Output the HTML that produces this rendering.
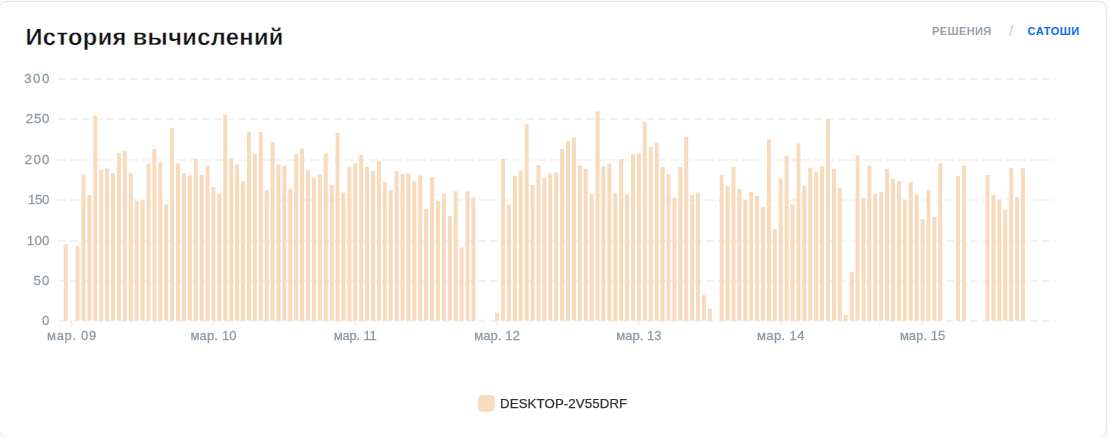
<!DOCTYPE html>
<html><head><meta charset="utf-8"><style>
html,body{margin:0;padding:0;width:1108px;height:437px;overflow:hidden;background:#fafafa;}
.card{position:absolute;left:-1px;top:1px;width:1108px;height:437px;box-sizing:border-box;border:1px solid #E4E2F5;border-radius:8px;background:#fff;}
svg{position:absolute;left:0;top:0;}
text{font-family:"Liberation Sans",sans-serif;}
</style></head><body>
<div class="card"></div>
<svg width="1108" height="437" viewBox="0 0 1108 437">
<g stroke="#E8E8E8" stroke-width="1" stroke-dasharray="8 4"><line x1="58" y1="79.00" x2="1055" y2="79.00"/><line x1="58" y1="119.00" x2="1055" y2="119.00"/><line x1="58" y1="160.00" x2="1055" y2="160.00"/><line x1="58" y1="200.00" x2="1055" y2="200.00"/><line x1="58" y1="241.00" x2="1055" y2="241.00"/><line x1="58" y1="281.00" x2="1055" y2="281.00"/><line x1="58" y1="321.00" x2="1055" y2="321.00"/></g>
<g stroke="#E8E8E8" stroke-width="1"><line x1="71.65" y1="321" x2="71.65" y2="326"/><line x1="213.47" y1="321" x2="213.47" y2="326"/><line x1="355.28" y1="321" x2="355.28" y2="326"/><line x1="497.10" y1="321" x2="497.10" y2="326"/><line x1="638.91" y1="321" x2="638.91" y2="326"/><line x1="780.73" y1="321" x2="780.73" y2="326"/><line x1="922.55" y1="321" x2="922.55" y2="326"/></g>
<g fill="#F8DABD"><rect x="63.74" y="244.20" width="4.00" height="76.60"/><rect x="75.56" y="246.20" width="4.00" height="74.60"/><rect x="81.47" y="174.30" width="4.00" height="146.50"/><rect x="87.38" y="195.10" width="4.00" height="125.70"/><rect x="93.29" y="115.60" width="4.00" height="205.20"/><rect x="99.20" y="169.60" width="4.00" height="151.20"/><rect x="105.10" y="168.50" width="4.00" height="152.30"/><rect x="111.01" y="173.10" width="4.00" height="147.70"/><rect x="116.92" y="153.10" width="4.00" height="167.70"/><rect x="122.83" y="151.10" width="4.00" height="169.70"/><rect x="128.74" y="173.10" width="4.00" height="147.70"/><rect x="134.65" y="200.80" width="4.00" height="120.00"/><rect x="140.56" y="199.90" width="4.00" height="120.90"/><rect x="146.47" y="163.40" width="4.00" height="157.40"/><rect x="152.38" y="149.10" width="4.00" height="171.70"/><rect x="158.28" y="162.30" width="4.00" height="158.50"/><rect x="164.19" y="204.20" width="4.00" height="116.60"/><rect x="170.10" y="127.80" width="4.00" height="193.00"/><rect x="176.01" y="163.40" width="4.00" height="157.40"/><rect x="181.92" y="173.10" width="4.00" height="147.70"/><rect x="187.83" y="175.20" width="4.00" height="145.60"/><rect x="193.74" y="158.80" width="4.00" height="162.00"/><rect x="199.65" y="174.70" width="4.00" height="146.10"/><rect x="205.56" y="165.90" width="4.00" height="154.90"/><rect x="211.47" y="187.00" width="4.00" height="133.80"/><rect x="217.38" y="193.80" width="4.00" height="127.00"/><rect x="223.28" y="114.70" width="4.00" height="206.10"/><rect x="229.19" y="158.10" width="4.00" height="162.70"/><rect x="235.10" y="164.10" width="4.00" height="156.70"/><rect x="241.01" y="181.40" width="4.00" height="139.40"/><rect x="246.92" y="132.10" width="4.00" height="188.70"/><rect x="252.83" y="154.00" width="4.00" height="166.80"/><rect x="258.74" y="132.10" width="4.00" height="188.70"/><rect x="264.65" y="190.10" width="4.00" height="130.70"/><rect x="270.56" y="142.10" width="4.00" height="178.70"/><rect x="276.47" y="164.10" width="4.00" height="156.70"/><rect x="282.37" y="165.90" width="4.00" height="154.90"/><rect x="288.28" y="189.20" width="4.00" height="131.60"/><rect x="294.19" y="154.00" width="4.00" height="166.80"/><rect x="300.10" y="148.40" width="4.00" height="172.40"/><rect x="306.01" y="170.00" width="4.00" height="150.80"/><rect x="311.92" y="178.20" width="4.00" height="142.60"/><rect x="317.83" y="174.20" width="4.00" height="146.60"/><rect x="323.74" y="153.50" width="4.00" height="167.30"/><rect x="329.65" y="184.70" width="4.00" height="136.10"/><rect x="335.55" y="132.80" width="4.00" height="188.00"/><rect x="341.46" y="192.50" width="4.00" height="128.30"/><rect x="347.37" y="166.80" width="4.00" height="154.00"/><rect x="353.28" y="163.00" width="4.00" height="157.80"/><rect x="359.19" y="154.90" width="4.00" height="165.90"/><rect x="365.10" y="166.80" width="4.00" height="154.00"/><rect x="371.01" y="171.20" width="4.00" height="149.60"/><rect x="376.92" y="160.80" width="4.00" height="160.00"/><rect x="382.83" y="181.90" width="4.00" height="138.90"/><rect x="388.74" y="190.10" width="4.00" height="130.70"/><rect x="394.64" y="171.10" width="4.00" height="149.70"/><rect x="400.55" y="173.90" width="4.00" height="146.90"/><rect x="406.46" y="173.00" width="4.00" height="147.80"/><rect x="412.37" y="181.50" width="4.00" height="139.30"/><rect x="418.28" y="175.20" width="4.00" height="145.60"/><rect x="424.19" y="208.80" width="4.00" height="112.00"/><rect x="430.10" y="177.00" width="4.00" height="143.80"/><rect x="436.01" y="200.80" width="4.00" height="120.00"/><rect x="441.92" y="193.80" width="4.00" height="127.00"/><rect x="447.83" y="216.20" width="4.00" height="104.60"/><rect x="453.74" y="191.40" width="4.00" height="129.40"/><rect x="459.64" y="247.50" width="4.00" height="73.30"/><rect x="465.55" y="191.40" width="4.00" height="129.40"/><rect x="471.46" y="197.50" width="4.00" height="123.30"/><rect x="495.10" y="312.60" width="4.00" height="8.20"/><rect x="501.01" y="159.00" width="4.00" height="161.80"/><rect x="506.92" y="204.20" width="4.00" height="116.60"/><rect x="512.83" y="175.80" width="4.00" height="145.00"/><rect x="518.73" y="170.70" width="4.00" height="150.10"/><rect x="524.64" y="124.00" width="4.00" height="196.80"/><rect x="530.55" y="185.00" width="4.00" height="135.80"/><rect x="536.46" y="165.00" width="4.00" height="155.80"/><rect x="542.37" y="178.00" width="4.00" height="142.80"/><rect x="548.28" y="173.60" width="4.00" height="147.20"/><rect x="554.19" y="172.30" width="4.00" height="148.50"/><rect x="560.10" y="148.90" width="4.00" height="171.90"/><rect x="566.01" y="140.80" width="4.00" height="180.00"/><rect x="571.91" y="137.50" width="4.00" height="183.30"/><rect x="577.82" y="165.20" width="4.00" height="155.60"/><rect x="583.73" y="169.00" width="4.00" height="151.80"/><rect x="589.64" y="194.00" width="4.00" height="126.80"/><rect x="595.55" y="111.20" width="4.00" height="209.60"/><rect x="601.46" y="166.10" width="4.00" height="154.70"/><rect x="607.37" y="163.60" width="4.00" height="157.20"/><rect x="613.28" y="193.30" width="4.00" height="127.50"/><rect x="619.19" y="159.00" width="4.00" height="161.80"/><rect x="625.10" y="194.00" width="4.00" height="126.80"/><rect x="631.00" y="154.20" width="4.00" height="166.60"/><rect x="636.91" y="153.50" width="4.00" height="167.30"/><rect x="642.82" y="122.00" width="4.00" height="198.80"/><rect x="648.73" y="146.90" width="4.00" height="173.90"/><rect x="654.64" y="142.50" width="4.00" height="178.30"/><rect x="660.55" y="167.00" width="4.00" height="153.80"/><rect x="666.46" y="174.10" width="4.00" height="146.70"/><rect x="672.37" y="197.80" width="4.00" height="123.00"/><rect x="678.28" y="166.80" width="4.00" height="154.00"/><rect x="684.19" y="137.00" width="4.00" height="183.80"/><rect x="690.09" y="195.10" width="4.00" height="125.70"/><rect x="696.00" y="192.50" width="4.00" height="128.30"/><rect x="701.91" y="294.80" width="4.00" height="26.00"/><rect x="707.82" y="308.60" width="4.00" height="12.20"/><rect x="719.64" y="175.00" width="4.00" height="145.80"/><rect x="725.55" y="185.90" width="4.00" height="134.90"/><rect x="731.46" y="166.70" width="4.00" height="154.10"/><rect x="737.37" y="188.90" width="4.00" height="131.90"/><rect x="743.28" y="200.00" width="4.00" height="120.80"/><rect x="749.18" y="191.80" width="4.00" height="129.00"/><rect x="755.09" y="195.80" width="4.00" height="125.00"/><rect x="761.00" y="207.00" width="4.00" height="113.80"/><rect x="766.91" y="139.40" width="4.00" height="181.40"/><rect x="772.82" y="229.20" width="4.00" height="91.60"/><rect x="778.73" y="178.20" width="4.00" height="142.60"/><rect x="784.64" y="155.90" width="4.00" height="164.90"/><rect x="790.55" y="204.20" width="4.00" height="116.60"/><rect x="796.46" y="143.60" width="4.00" height="177.20"/><rect x="802.37" y="185.90" width="4.00" height="134.90"/><rect x="808.27" y="167.80" width="4.00" height="153.00"/><rect x="814.18" y="171.90" width="4.00" height="148.90"/><rect x="820.09" y="166.30" width="4.00" height="154.50"/><rect x="826.00" y="118.90" width="4.00" height="201.90"/><rect x="831.91" y="169.00" width="4.00" height="151.80"/><rect x="837.82" y="187.80" width="4.00" height="133.00"/><rect x="843.73" y="314.80" width="4.00" height="6.00"/><rect x="849.64" y="271.90" width="4.00" height="48.90"/><rect x="855.55" y="155.10" width="4.00" height="165.70"/><rect x="861.46" y="197.80" width="4.00" height="123.00"/><rect x="867.36" y="165.60" width="4.00" height="155.20"/><rect x="873.27" y="193.80" width="4.00" height="127.00"/><rect x="879.18" y="192.00" width="4.00" height="128.80"/><rect x="885.09" y="169.00" width="4.00" height="151.80"/><rect x="891.00" y="178.80" width="4.00" height="142.00"/><rect x="896.91" y="181.00" width="4.00" height="139.80"/><rect x="902.82" y="199.90" width="4.00" height="120.90"/><rect x="908.73" y="181.90" width="4.00" height="138.90"/><rect x="914.64" y="194.20" width="4.00" height="126.60"/><rect x="920.55" y="219.10" width="4.00" height="101.70"/><rect x="926.45" y="189.80" width="4.00" height="131.00"/><rect x="932.36" y="216.70" width="4.00" height="104.10"/><rect x="938.27" y="163.20" width="4.00" height="157.60"/><rect x="956.00" y="176.00" width="4.00" height="144.80"/><rect x="961.91" y="165.20" width="4.00" height="155.60"/><rect x="985.54" y="175.00" width="4.00" height="145.80"/><rect x="991.45" y="194.70" width="4.00" height="126.10"/><rect x="997.36" y="199.90" width="4.00" height="120.90"/><rect x="1003.27" y="209.70" width="4.00" height="111.10"/><rect x="1009.18" y="167.90" width="4.00" height="152.90"/><rect x="1015.09" y="197.10" width="4.00" height="123.70"/><rect x="1021.00" y="168.30" width="4.00" height="152.50"/></g>
<g font-size="23.6" text-rendering="geometricPrecision" font-weight="bold" fill="#111111" stroke="#fff" stroke-width="0.35" letter-spacing="0.4"><text x="25.5" y="45.15">История</text><text x="132.7" y="45.15">вычислений</text></g>
<text x="932" y="34.8" font-size="11" font-weight="bold" fill="#9AA3AB" letter-spacing="0.4">РЕШЕНИЯ</text>
<text x="1009.3" y="35.8" font-size="14" fill="#CFC6BE">/</text>
<text x="1027.5" y="34.8" font-size="11" font-weight="bold" fill="#0B6BF0" letter-spacing="0.55">САТОШИ</text>
</svg><svg width="1108" height="437" viewBox="0 0 1108 437" style="will-change:transform"><g fill="#8F9BA3" stroke="#8F9BA3" stroke-width="0.3" font-size="13.3"><text x="50.90" y="83.30" text-anchor="end" letter-spacing="1.5">300</text><text x="50.10" y="123.30" text-anchor="end" letter-spacing="0.7">250</text><text x="50.60" y="164.30" text-anchor="end" letter-spacing="1.2">200</text><text x="49.05" y="204.30" text-anchor="end" letter-spacing="-0.35">150</text><text x="49.60" y="245.30" text-anchor="end" letter-spacing="0.2">100</text><text x="50.40" y="285.30" text-anchor="end" letter-spacing="1.0">50</text><text x="50.00" y="325.30" text-anchor="end" letter-spacing="0.6">0</text></g>
<g fill="#8F9BA3" stroke="#8F9BA3" stroke-width="0.3" font-size="13"><text x="71.98" y="339.9" text-anchor="middle" letter-spacing="0.67">мар. 09</text><text x="213.56" y="339.9" text-anchor="middle" letter-spacing="0.18">мар. 10</text><text x="355.19" y="339.9" text-anchor="middle" letter-spacing="-0.18">мар. 11</text><text x="497.15" y="339.9" text-anchor="middle" letter-spacing="0.1">мар. 12</text><text x="638.94" y="339.9" text-anchor="middle" letter-spacing="0.05">мар. 13</text><text x="780.92" y="339.9" text-anchor="middle" letter-spacing="0.38">мар. 14</text><text x="922.56" y="339.9" text-anchor="middle" letter-spacing="0.03">мар. 15</text></g>
<rect x="477.8" y="394.9" width="16.9" height="16.9" rx="5" fill="#F8DABD"/>
<text x="500" y="407.7" font-size="13.3" fill="#333333" stroke="#333333" stroke-width="0.25" letter-spacing="0.08">DESKTOP-2V55DRF</text>
</svg>
</body></html>
